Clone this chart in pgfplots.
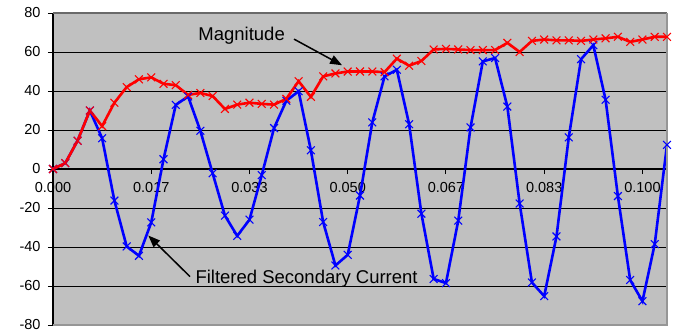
\documentclass[border=0pt]{standalone}
\usepackage{fontspec}
\setmainfont{Liberation Sans}
\usepackage{pgfplots}
\usepackage{pgfplotstable}
\pgfplotsset{compat=1.18}
\usetikzlibrary{arrows.meta}
\definecolor{plotgray}{RGB}{192,192,192}
\definecolor{framegray}{RGB}{105,105,105}
\definecolor{framegrayB}{RGB}{150,150,150}

\pgfplotstableread{
i v
0 0
1 3
2 14.5
3 30
4 22
5 34
6 42
7 46
8 47
9 43.7
10 43
11 38
12 39
13 37.4
14 30.8
15 33
16 34
17 33.4
18 33
19 36
20 45
21 37
22 47.5
23 49
24 50
25 50
26 50
27 49.7
28 56.6
29 53
30 55.4
31 61.3
32 61.6
33 61.3
34 61
35 61
36 61
37 64.7
38 60
39 65.7
40 66.4
41 66
42 66
43 65.7
44 66.4
45 67
46 67.8
47 65.2
48 66.4
49 67.8
50 67.8
}\magtable

\pgfplotstableread{
i v
0 0
1 3
2 14.5
3 30
4 15.8
5 -16.2
6 -39.7
7 -44.5
8 -27.4
9 5
10 32.9
11 37.2
12 19.6
13 -2.2
14 -23.9
15 -34.3
16 -26
17 -3.1
18 21
19 35
20 39.9
21 9.6
22 -27.2
23 -49.5
24 -44
25 -13.6
26 23.9
27 47.5
28 50.9
29 23
30 -22.9
31 -56.4
32 -58.5
33 -26.5
34 21.3
35 55.2
36 56.9
37 32
38 -17.7
39 -58.2
40 -65.2
41 -34.6
42 16.2
43 56.3
44 63.5
45 35.5
46 -13.9
47 -56.9
48 -67.8
49 -38.5
50 12.4
}\filtable

\begin{document}
\begin{tikzpicture}
\useasboundingbox (-53bp,-6bp) rectangle (623bp,325bp);
\begin{axis}[
  at={(0,0)}, anchor=south west,
  scale only axis, width=614bp, height=312bp,
  xmin=0, xmax=50, ymin=-80, ymax=80,
  axis x line=middle, axis y line=left,
  axis line style={-, black, line width=1.5bp},
  hide obscured x ticks=false, hide obscured y ticks=false,
  xtick={0,8,16,24,32,40,48},
  xticklabels={0.000,0.017,0.033,0.050,0.067,0.083,0.100},
  ytick={-80,-60,-40,-20,0,20,40,60,80},
  yticklabels={-80,-60,-40,-20,0,20,40,60,80},
  tick align=outside, major tick length=5bp,
  tick style={black, line width=1bp},
  ymajorgrids, major grid style={black, line width=0.9bp},
  axis background/.style={fill=plotgray},
  ticklabel style={font=\fontsize{14.5bp}{17bp}\selectfont},
  yticklabel style={xshift=-4bp},
  xticklabel style={yshift=-5bp},
  clip=false,
]
\addplot[blue, line width=2.6bp, mark=x, mark size=5.5bp, mark options={line width=1.1bp, solid}] table[x=i, y=v] {\filtable};
\addplot[red, line width=2.6bp, mark=x, mark size=5.5bp, mark options={line width=1.1bp, solid}] table[x=i, y=v] {\magtable};
\draw[framegray, line width=1.5bp] (axis cs:0,80) -- (axis cs:50,80);
\draw[framegrayB, line width=1.5bp] (axis cs:50,80) -- (axis cs:50,-80) -- (axis cs:0,-80);
\node[font=\fontsize{18.5bp}{20bp}\selectfont] at (axis cs:15.36,68.6) {Magnitude};
\draw[line width=1.5bp, -{Triangle[length=12bp,width=9bp]}] (axis cs:19.63,66.6) -- (axis cs:23.54,53.2);
\node[font=\fontsize{18.5bp}{20bp}\selectfont] at (axis cs:20.65,-56.1) {Filtered Secondary Current};
\draw[line width=1.5bp, -{Triangle[length=12bp,width=9bp]}] (axis cs:11.16,-55.2) -- (axis cs:7.76,-34.1);
\end{axis}
\end{tikzpicture}
\end{document}
